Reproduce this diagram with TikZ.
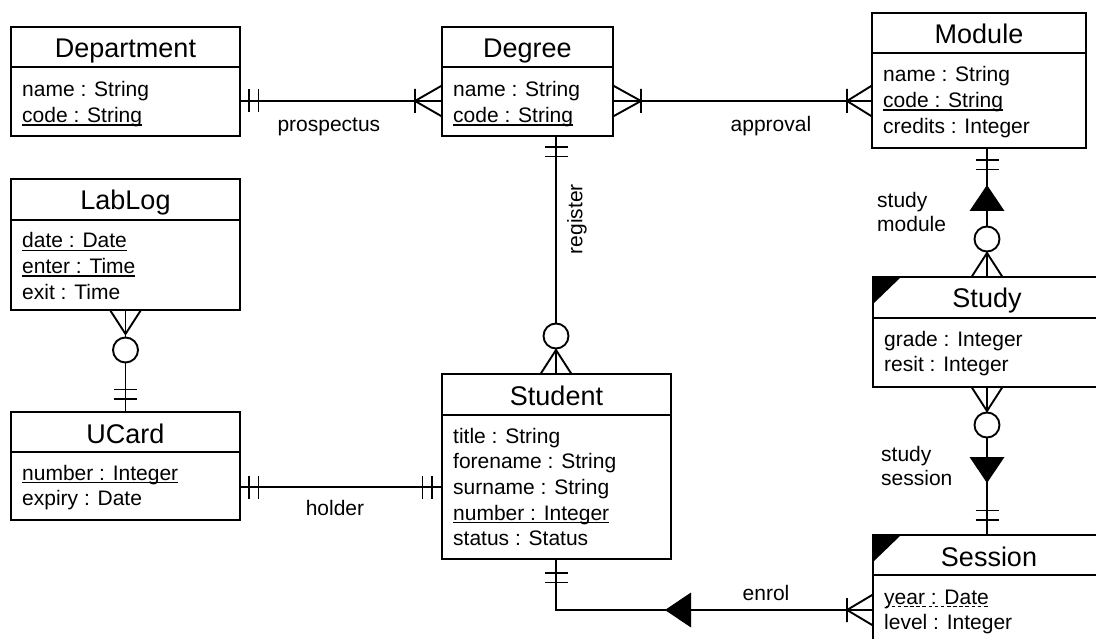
\documentclass[tikz,border=0pt]{standalone}
\usepackage{fontspec}
\setmainfont{Liberation Sans}
\usetikzlibrary{calc}

% type sizes for entity titles and attribute lines
\newcommand\titlesize{\fontsize{27}{32}\selectfont}
\newcommand\attrsize{\fontsize{21}{24}\selectfont}

% key attributes: solid underline; partial keys: dashed underline
\newsavebox\keybox
\newcommand\keyline[1]{\sbox\keybox{#1}\rlap{\rule[-3.2pt]{\wd\keybox}{1.4pt}}\usebox\keybox}
\newcommand\partkeyline[1]{\sbox\keybox{#1}\rlap{\hbox to \wd\keybox{\xleaders\hbox to 6pt{\hss\rule[-3.2pt]{3.6pt}{1.4pt}\hss}\hfill}}\usebox\keybox}

\tikzset{
  link/.style={line width=1.9pt, line cap=butt},
  entitybox/.style={draw, line width=1.9pt, rectangle, anchor=north west,
    inner sep=0pt, outer sep=0pt},
  titletext/.style={font=\titlesize, anchor=base, inner sep=0pt},
  attrtext/.style={font=\attrsize, anchor=base west, inner sep=0pt},
  lbl/.style={font=\attrsize, inner sep=0pt},
  % relationship ends; local +x points away from the entity, origin on its edge
  mand/.pic={\draw[link] (#1,-11.5) -- (#1,11.5) ({#1+9.5},-11.5) -- ({#1+9.5},11.5);},
  onemany/.pic={\draw[link] (0,-15.5) -- (#1,0) -- (0,15.5) (#1,-12) -- (#1,12);},
  zeromany/.pic={\draw[link] (0,-15.5) -- (24,0) -- (0,15.5);
    \draw[link, fill=white] (#1,0) circle[radius=12.5];},
  % solid direction wedge, tip at the origin pointing along +x
  wedge/.pic={\fill (0,0) -- (-26,-17.5) -- (-26,17.5) -- cycle;},
}

% entity: name, left, top, right, bottom, header height, title
\newcommand\entity[7]{%
  \node[entitybox, minimum width={(#4-#2)*1pt}, minimum height={(#5-#3)*1pt}] (#1) at (#2,#3) {};
  \draw[link] ($(#1.north west)+(0,#6)$) -- ($(#1.north east)+(0,#6)$);
  \node[titletext] (#1-title) at ($(#1.north)+(0,31)$) {#7};
}
% attribute lines: entity name, first baseline offset from top, list
\newcommand\attrs[3]{%
  \foreach \t [count=\i] in {#3} {
    \node[attrtext] (#1-a\i) at ($(#1.north west)+(11,{#2+(\i-1)*25.7})$) {\t};
  }
}

\begin{document}
\begin{tikzpicture}[x=1pt, y=-1pt]
\useasboundingbox (0,0) rectangle (1096,639);
\fill[white] (0,0) rectangle (1096,639);
\clip (0,0) rectangle (1096,639);

% ---------- entities ----------
\entity{dept}{11}{27}{240}{136}{40}{Department}
\attrs{dept}{70}{name : String, \keyline{code : String}}

\entity{degree}{442}{27}{613}{136}{40}{Degree}
\attrs{degree}{70}{name : String, \keyline{code : String}}

\entity{module}{872}{13}{1086}{148}{40}{Module}
\attrs{module}{69}{name : String, \keyline{code : String}, credits : Integer}

\entity{lablog}{11}{179}{240}{310}{41}{LabLog}
\attrs{lablog}{69}{\keyline{date : Date}, \keyline{enter : Time}, exit : Time}

\entity{ucard}{11}{412}{240}{520}{40}{UCard}
\attrs{ucard}{68}{\keyline{number : Integer}, expiry : Date}

\entity{student}{442}{374}{671}{559}{41}{Student}
\attrs{student}{69}{title : String, forename : String, surname : String,
  \keyline{number : Integer}, status : Status}

\entity{study}{873}{277}{1101}{387}{41}{Study}
\attrs{study}{69}{grade : Integer, resit : Integer}
\fill (study.north west) -- ++(28,0) -- ++(-28,27) -- cycle;

\entity{session}{873}{535}{1105}{680}{40}{Session}
\attrs{session}{69}{\partkeyline{year : Date}, level : Integer}
\fill (session.north west) -- ++(28,0) -- ++(-28,27) -- cycle;

% ---------- relationships ----------
% prospectus
\draw[link] ($(dept.north east)+(0,74)$) coordinate (pr-a)
  -- ($(degree.north west)+(0,74)$) coordinate (pr-b);
\path (pr-a) pic {mand=9} (pr-b) pic[rotate=180] {onemany=27};
\node[lbl] (pr-lbl) at ($(pr-a)!0.44!(pr-b)+(0,26)$) {prospectus};

% approval
\draw[link] ($(degree.north east)+(0,74)$) coordinate (ap-a)
  -- ($(module.north west)+(0,88)$) coordinate (ap-b);
\path (ap-a) pic {onemany=28} (ap-b) pic[rotate=180] {onemany=25};
\node[lbl] (ap-lbl) at ($(ap-a)!0.61!(ap-b)+(0,25)$) {approval};

% register
\draw[link] ($(degree.south west)+(114,0)$) coordinate (rg-a)
  -- ($(student.north west)+(114,0)$) coordinate (rg-b);
\path (rg-a) pic[rotate=-90] {mand=11} (rg-b) pic[rotate=90] {zeromany=38};
\node[lbl, rotate=90] (rg-lbl) at ($(rg-a)!0.35!(rg-b)+(21,0)$) {register};

% LabLog -- UCard
\draw[link] (lablog.south) coordinate (lu-a) -- (ucard.north) coordinate (lu-b);
\path (lu-a) pic[rotate=-90] {zeromany=40} (lu-b) pic[rotate=90] {mand=13};

% holder
\draw[link] ($(ucard.north east)+(0,75)$) coordinate (ho-a)
  -- ($(student.north west)+(0,113)$) coordinate (ho-b);
\path (ho-a) pic {mand=9} (ho-b) pic[rotate=180] {mand=10};
\node[lbl] (ho-lbl) at ($(ho-a)!0.47!(ho-b)+(0,21)$) {holder};

% study module
\draw[link] ($(module.south west)+(115,0)$) coordinate (sm-a)
  -- ($(study.north west)+(114,0)$) coordinate (sm-b);
\path (sm-a) pic[rotate=-90] {mand=12} (sm-b) pic[rotate=90] {zeromany=38};
\path ($(sm-a)+(0,37)$) pic[rotate=90] {wedge};
\node[lbl, anchor=west, align=left] (sm-lbl) at ($(study.north west)+(4,-65)$) {study\\module};

% study session
\draw[link] ($(study.south west)+(114,0)$) coordinate (ss-a)
  -- ($(session.north west)+(114,0)$) coordinate (ss-b);
\path (ss-a) pic[rotate=-90] {zeromany=38} (ss-b) pic[rotate=90] {mand=15};
\path ($(ss-b)+(0,-52)$) pic[rotate=-90] {wedge};
\node[lbl, anchor=west, align=left] (ss-lbl) at ($(session.north west)+(8,-69)$) {study\\session};

% enrol
\draw[link] ($(student.south west)+(114,0)$) coordinate (en-a)
  |- ($(session.north west)+(0,75)$) coordinate (en-b);
\path (en-a) pic[rotate=-90] {mand=14} (en-b) pic[rotate=180] {onemany=26};
\path ($(en-b)+(-208,0)$) pic[rotate=180] {wedge};
\node[lbl] (en-lbl) at ($(en-b)+(-107,-17)$) {enrol};
\end{tikzpicture}
\end{document}
